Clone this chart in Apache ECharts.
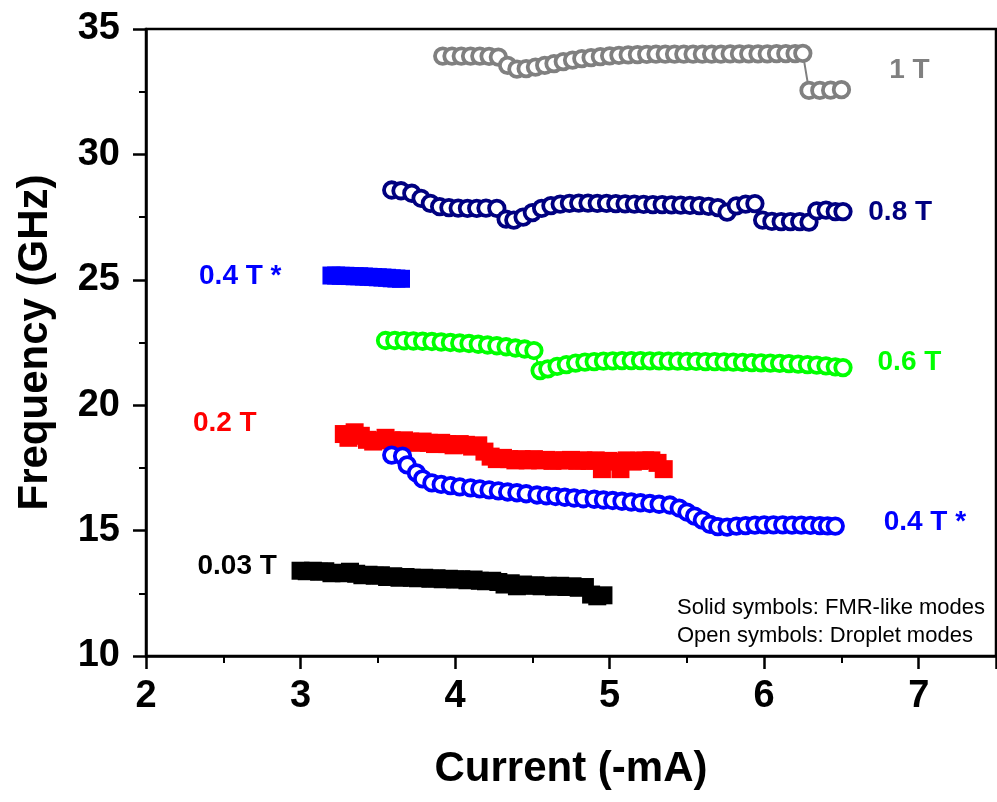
<!DOCTYPE html>
<html><head><meta charset="utf-8">
<script src="https://cdn.jsdelivr.net/npm/echarts@6/dist/echarts.min.js"></script>
<style>html,body{margin:0;padding:0;background:#fff}#c{width:997px;height:802px}</style>
</head><body><div id="c"></div>
<script>
// ---- data ----
const t1X = [3.92,3.98,4.04,4.10,4.16,4.22,4.28,4.34,4.40,4.46,4.52,4.58,4.64,4.70,4.76,4.82,4.88,4.94,5.00,5.06,5.12,5.18,5.24,5.30,5.36,5.42,5.48,5.54,5.60,5.66,5.72,5.78,5.84,5.90,5.96,6.02,6.08,6.14,6.20,6.25,6.29,6.36,6.43,6.50];
const t1Y = [33.92,33.92,33.92,33.92,33.92,33.91,33.88,33.55,33.40,33.42,33.48,33.55,33.62,33.70,33.76,33.82,33.86,33.90,33.93,33.95,33.97,33.98,33.99,34.00,34.00,34.00,34.00,34.00,34.00,34.00,34.00,34.01,34.01,34.01,34.01,34.01,34.02,34.02,34.02,34.03,32.55,32.55,32.56,32.58];

const t08X = [3.59,3.65,3.72,3.78,3.84,3.90,3.96,4.02,4.08,4.14,4.20,4.27,4.33,4.38,4.44,4.50,4.56,4.62,4.68,4.74,4.80,4.86,4.92,4.98,5.04,5.10,5.16,5.22,5.28,5.34,5.40,5.46,5.52,5.58,5.64,5.70,5.76,5.82,5.88,5.94,5.99,6.05,6.11,6.17,6.23,6.29,6.34,6.40,6.46,6.51];
const t08Y = [28.58,28.55,28.45,28.25,28.05,27.92,27.88,27.86,27.85,27.85,27.86,27.85,27.42,27.38,27.50,27.68,27.85,27.96,28.02,28.05,28.06,28.06,28.05,28.05,28.04,28.03,28.02,28.01,28.00,28.00,27.99,27.98,27.97,27.96,27.93,27.88,27.70,27.95,28.02,28.04,27.38,27.33,27.32,27.32,27.32,27.30,27.75,27.78,27.72,27.72];

const t04sX = [3.20,3.23,3.26,3.29,3.32,3.35,3.38,3.41,3.44,3.47,3.50,3.53,3.56,3.59,3.62,3.65];
const t04sY = [25.17,25.17,25.16,25.16,25.15,25.14,25.14,25.13,25.12,25.11,25.10,25.09,25.08,25.06,25.05,25.04];

const t06X = [3.55,3.61,3.67,3.73,3.79,3.85,3.91,3.97,4.03,4.09,4.15,4.21,4.27,4.33,4.39,4.45,4.51,4.55,4.60,4.66,4.72,4.78,4.84,4.90,4.96,5.02,5.08,5.14,5.20,5.26,5.32,5.38,5.44,5.50,5.56,5.62,5.68,5.74,5.80,5.86,5.92,5.98,6.04,6.10,6.16,6.22,6.28,6.34,6.40,6.46,6.51];
const t06Y = [22.58,22.58,22.57,22.56,22.55,22.54,22.52,22.50,22.48,22.46,22.43,22.40,22.37,22.33,22.28,22.24,22.18,21.38,21.45,21.55,21.62,21.68,21.72,21.74,21.76,21.77,21.78,21.78,21.78,21.77,21.77,21.76,21.76,21.75,21.75,21.74,21.74,21.73,21.72,21.71,21.70,21.69,21.68,21.67,21.66,21.64,21.62,21.60,21.57,21.53,21.50];

const t02X = [3.28,3.31,3.35,3.39,3.43,3.47,3.51,3.55,3.59,3.63,3.67,3.71,3.75,3.79,3.83,3.87,3.91,3.95,3.99,4.03,4.07,4.11,4.15,4.19,4.23,4.27,4.31,4.35,4.39,4.43,4.47,4.51,4.55,4.59,4.63,4.67,4.71,4.75,4.79,4.83,4.87,4.91,4.95,4.99,5.03,5.07,5.11,5.15,5.19,5.23,5.27,5.31,5.35];
const t02Y = [18.85,18.70,18.92,18.78,18.62,18.55,18.60,18.70,18.60,18.55,18.60,18.55,18.50,18.55,18.50,18.45,18.50,18.45,18.40,18.45,18.42,18.35,18.40,18.15,17.95,17.85,17.90,17.85,17.80,17.85,17.80,17.85,17.80,17.82,17.78,17.80,17.80,17.82,17.78,17.80,17.78,17.80,17.45,17.78,17.75,17.45,17.80,17.75,17.78,17.80,17.80,17.70,17.45];

const t04oX = [3.59,3.66,3.69,3.75,3.79,3.85,3.91,3.97,4.03,4.10,4.16,4.22,4.28,4.34,4.40,4.46,4.53,4.59,4.65,4.71,4.77,4.83,4.90,4.96,5.02,5.08,5.14,5.20,5.26,5.32,5.39,5.45,5.50,5.55,5.60,5.65,5.70,5.76,5.82,5.88,5.94,6.00,6.06,6.12,6.18,6.24,6.30,6.36,6.41,6.46];
const t04oY = [18.01,17.97,17.62,17.30,17.06,16.90,16.84,16.79,16.74,16.70,16.66,16.62,16.58,16.54,16.51,16.47,16.42,16.39,16.36,16.33,16.30,16.27,16.25,16.22,16.20,16.17,16.14,16.11,16.08,16.05,16.02,15.90,15.74,15.58,15.42,15.25,15.16,15.14,15.18,15.20,15.22,15.23,15.23,15.23,15.22,15.22,15.21,15.20,15.19,15.18];

const t003X = [3.00,3.04,3.08,3.12,3.16,3.20,3.24,3.28,3.32,3.36,3.40,3.44,3.48,3.52,3.56,3.60,3.64,3.68,3.72,3.76,3.80,3.84,3.88,3.92,3.96,4.00,4.04,4.08,4.12,4.16,4.20,4.24,4.28,4.32,4.36,4.40,4.44,4.48,4.52,4.56,4.60,4.64,4.68,4.72,4.76,4.80,4.84,4.88,4.92,4.96];
const t003Y = [13.40,13.38,13.40,13.36,13.38,13.30,13.32,13.30,13.36,13.28,13.22,13.24,13.20,13.22,13.15,13.18,13.12,13.15,13.12,13.10,13.12,13.08,13.10,13.06,13.08,13.05,13.06,13.02,13.05,13.00,12.98,13.00,12.95,12.85,12.90,12.78,12.85,12.80,12.82,12.78,12.80,12.76,12.80,12.75,12.78,12.72,12.75,12.45,12.38,12.42];

const labelText = ['1 T','0.8 T','0.4 T *','0.6 T','0.2 T','0.4 T *','0.03 T'];
const labelX = [6.94,6.88,2.61,6.94,2.51,7.04,2.59];
const labelY = [33.37,27.70,25.15,21.72,19.29,15.34,13.59];
const labelColor = ['#808080','#000080','#0000ff','#00ff00','#ff0000','#0000ff','#000000'];

const xTicks = [2,3,4,5,6,7];
const yTicks = [10,15,20,25,30,35];
const notes = ['Solid symbols: FMR-like modes','Open symbols: Droplet modes'];

// ---- build ----
const zip = (xs, ys) => xs.map((x, i) => [x, ys[i]]);
const FONT = "'Liberation Sans', Arial, sans-serif";

function openSeries(xs, ys, color) {
  return {
    type: 'line', data: zip(xs, ys), symbol: 'circle', symbolSize: 15.5,
    showAllSymbol: true,
    lineStyle: { color: color, width: 2 },
    itemStyle: { color: '#fff', borderColor: color, borderWidth: 3.8, opacity: 1 },
    emphasis: { disabled: true }, animation: false
  };
}
function solidSeries(xs, ys, color) {
  return {
    type: 'scatter', data: zip(xs, ys), symbol: 'rect', symbolSize: 18,
    itemStyle: { color: color, opacity: 1 }, emphasis: { disabled: true }, animation: false
  };
}

const chart = echarts.init(document.getElementById('c'), null, { renderer: 'canvas' });
const axisCommon = {
  axisLine: { show: true, lineStyle: { color: '#000', width: 2.5 } },
  axisTick: { show: true, inside: false, length: 13, lineStyle: { color: '#000', width: 2.5 } },
  minorTick: { show: true, splitNumber: 2, length: 7, lineStyle: { color: '#000', width: 2 } },
  splitLine: { show: false },
  nameLocation: 'middle',
  nameTextStyle: { fontSize: 42, fontWeight: 'bold', fontFamily: FONT, color: '#000' }
};

chart.setOption({
  animation: false,
  backgroundColor: '#fff',
  grid: { left: 146, right: 1, top: 29, bottom: 146, show: true, borderColor: '#000', borderWidth: 2.5, backgroundColor: 'transparent' },
  xAxis: Object.assign({}, axisCommon, {
    type: 'value', min: 2, max: 7.5, interval: 1,
    name: 'Current (-mA)', nameGap: 92,
    axisLabel: { fontSize: 38, fontWeight: 'bold', fontFamily: FONT, color: '#000', margin: 22, showMaxLabel: false,
      formatter: v => xTicks.indexOf(v) >= 0 ? String(v) : '' }
  }),
  yAxis: Object.assign({}, axisCommon, {
    type: 'value', min: 10, max: 35, interval: 5,
    name: 'Frequency (GHz)', nameGap: 90,
    axisLabel: { fontSize: 38, fontWeight: 'bold', fontFamily: FONT, color: '#000', margin: 26,
      formatter: v => yTicks.indexOf(v) >= 0 ? String(v) : '' }
  }),
  series: [
    solidSeries(t003X, t003Y, '#000000'),
    solidSeries(t02X, t02Y, '#ff0000'),
    openSeries(t04oX, t04oY, '#0000ff'),
    solidSeries(t04sX, t04sY, '#0000ff'),
    openSeries(t06X, t06Y, '#00ff00'),
    openSeries(t08X, t08Y, '#000080'),
    openSeries(t1X, t1Y, '#808080'),
    {
      type: 'scatter', symbolSize: 0, silent: true, animation: false,
      itemStyle: { opacity: 1 },
      data: labelText.map((t, i) => ({
        value: [labelX[i], labelY[i]],
        label: { show: true, position: 'inside', formatter: t, color: labelColor[i], opacity: 1,
          fontSize: 28, fontWeight: 'bold', fontFamily: FONT }
      }))
    }
  ],
  graphic: notes.map((t, i) => ({
    type: 'text', left: 677, top: 597 + i * 28, silent: true,
    style: { text: t, fontSize: 22, fontFamily: FONT, fill: '#000' }
  }))
});
</script>
</body></html>
